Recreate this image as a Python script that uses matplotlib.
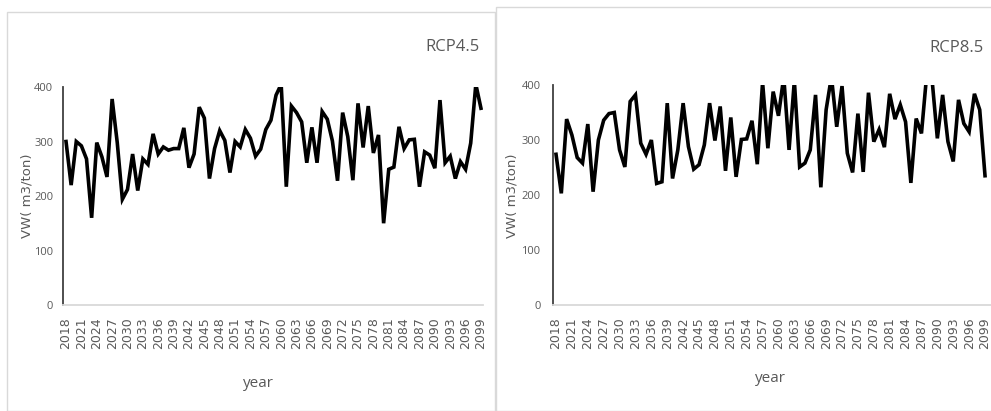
import matplotlib
matplotlib.use("Agg")
import matplotlib.pyplot as plt
from matplotlib import font_manager
from matplotlib.patches import Rectangle

years = list(range(2018, 2100))

rcp45 = [300, 220, 300, 292, 268, 160, 298, 272, 235, 378,
         298, 194, 212, 277, 210, 268, 258, 314, 277, 290,
         284, 287, 287, 325, 252, 277, 363, 343, 232, 287,
         320, 302, 243, 300, 290, 322, 306, 273, 286, 322,
         339, 385, 405, 217, 365, 353, 336, 261, 326, 261,
         355, 341, 301, 228, 353, 309, 229, 370, 289, 365,
         279, 312, 150, 249, 253, 327, 287, 303, 304, 217,
         281, 275, 251, 376, 261, 273, 232, 263, 249, 297,
         405, 361]

rcp85 = [274, 203, 338, 309, 268, 258, 329, 206, 300, 336,
         348, 350, 282, 251, 370, 382, 294, 274, 300, 221,
         224, 367, 230, 282, 367, 288, 247, 255, 291, 367,
         299, 361, 244, 341, 233, 301, 302, 335, 256, 405,
         285, 388, 344, 415, 282, 408, 251, 258, 282, 382,
         214, 355, 415, 324, 398, 276, 241, 348, 242, 386,
         297, 319, 287, 384, 338, 364, 333, 222, 339, 312,
         420, 410, 303, 382, 297, 261, 373, 330, 315, 384,
         355, 235]

panel_titles = ["RCP4.5", "RCP8.5"]
y_ticks = [0, 100, 200, 300, 400]
x_tick_years = list(range(2018, 2100, 3))
y_label = "VW( m3/ton)"
x_label = "year"


def pick(*names):
    avail = {f.name for f in font_manager.fontManager.ttflist}
    for n in names:
        if n in avail:
            return n
    return "DejaVu Sans"


narrow = pick("Liberation Sans Narrow", "Open Sans", "Liberation Sans")

W, H = 991, 411
fig = plt.figure(figsize=(W / 100, H / 100), dpi=100)
fig.patch.set_facecolor("white")

grey_text = "#595959"
border = "#d9d9d9"


def fx(px):
    return px / W


def fy(py):
    return 1 - py / H


# panel frames
fig.add_artist(Rectangle((fx(7), 0), fx(495 - 7), fy(12), transform=fig.transFigure,
                         fill=False, edgecolor=border, linewidth=1.0))
fig.add_artist(Rectangle((fx(496), 0), fx(1200 - 496), fy(7), transform=fig.transFigure,
                         fill=False, edgecolor=border, linewidth=1.0))

panels = [
    dict(data=rcp45, left=63, right=483, top=87, bottom=305, ypad=7,
         xlim=(2017.41, 2099.4), title_xy=(480, 47), ylab_x=27, year_xy=(258, 383)),
    dict(data=rcp85, left=553, right=991, top=85, bottom=305, ypad=9,
         xlim=(2017.43, 2100.13), title_xy=(984, 48), ylab_x=512, year_xy=(770, 378)),
]

for p, title in zip(panels, panel_titles):
    ax = fig.add_axes([fx(p["left"]), fy(p["bottom"]),
                       fx(p["right"] - p["left"]), (p["bottom"] - p["top"]) / H])
    ax.plot(years, p["data"], color="black", linewidth=2.6, solid_joinstyle="miter")
    ax.set_xlim(*p["xlim"])
    ax.set_ylim(0, 400)
    ax.set_facecolor("none")
    for s in ("top", "right"):
        ax.spines[s].set_visible(False)
    ax.spines["left"].set_color("#404040")
    ax.spines["left"].set_linewidth(1.3)
    ax.spines["bottom"].set_color(border)
    ax.spines["bottom"].set_linewidth(1.3)
    ax.set_yticks(y_ticks)
    ax.set_yticklabels([str(v) for v in y_ticks], family=narrow, fontsize=8,
                       color=grey_text)
    ax.set_xticks(x_tick_years)
    ax.set_xticklabels([str(v) for v in x_tick_years], rotation=90,
                       family="DejaVu Sans", fontsize=9, color=grey_text)
    ax.tick_params(axis="y", length=0, pad=p["ypad"])
    ax.tick_params(axis="x", length=0, pad=9)

    fig.text(fx(p["title_xy"][0]), fy(p["title_xy"][1]), title, ha="right",
             va="center", family=narrow, fontsize=12, color=grey_text)
    fig.text(fx(p["ylab_x"]), fy(196), y_label, rotation=90, ha="center",
             va="center", family="DejaVu Sans", fontsize=9.5, color=grey_text)
    fig.text(fx(p["year_xy"][0]), fy(p["year_xy"][1]), x_label, ha="center",
             va="center", family=narrow, fontsize=11, color=grey_text)

fig.savefig("out.png", dpi=100)
